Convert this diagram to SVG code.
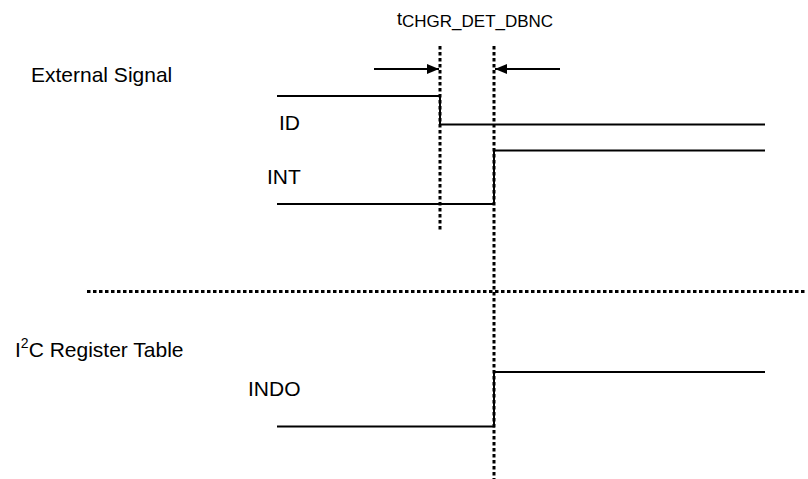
<svg xmlns="http://www.w3.org/2000/svg" width="808" height="479" viewBox="0 0 808 479">
<style>
  .lbl { font-family: "Liberation Sans", Arial, sans-serif; font-size: 21px; fill: #000; }
  .sub { font-family: "Liberation Sans", Arial, sans-serif; font-size: 17px; fill: #000; }
  .sig { fill: none; stroke: #000; stroke-width: 2; }
  .dot { fill: none; stroke: #000; stroke-width: 3; stroke-dasharray: 3.5 2.5; }
  .arr { fill: none; stroke: #000; stroke-width: 1.8; }
</style>
<defs>
  <marker id="ah" viewBox="0 0 12 10" refX="12" refY="5" markerWidth="12" markerHeight="10" markerUnits="userSpaceOnUse" orient="auto">
    <path d="M0,0 L12,5 L0,10 Z" fill="#000"/>
  </marker>
</defs>
<rect width="808" height="479" fill="#fff"/>
<g id="title">
  <text x="397" y="25" class="sub"><tspan font-size="18">t</tspan><tspan dy="1.5">CHGR_DET_DBNC</tspan></text>
</g>
<g id="external-signal"><text x="31" y="82" class="lbl">External Signal</text></g>
<g id="i2c-register-table"><text x="15" y="357" class="lbl">I<tspan dy="-9" font-size="14">2</tspan><tspan dy="9">C Register Table</tspan></text></g>
<g id="ID">
  <text x="279" y="130" class="lbl">ID</text>
  <path class="sig" d="M277,96 H440 V124.5 H765"/>
</g>
<g id="INT">
  <text x="267" y="184" class="lbl">INT</text>
  <path class="sig" d="M277,204 H494 V150.5 H765"/>
</g>
<g id="INDO">
  <text x="248" y="396" class="lbl">INDO</text>
  <path class="sig" d="M277,426.5 H494 V372 H765"/>
</g>
<g id="connectors">
  <line class="dot" x1="440" y1="46" x2="440" y2="232"/>
  <line class="dot" x1="494" y1="46" x2="494" y2="479"/>
  <line class="dot" x1="87" y1="291.5" x2="806" y2="291.5"/>
  <line class="arr" x1="374" y1="69" x2="439" y2="69" marker-end="url(#ah)"/>
  <line class="arr" x1="560" y1="69" x2="495" y2="69" marker-end="url(#ah)"/>
</g>
</svg>
